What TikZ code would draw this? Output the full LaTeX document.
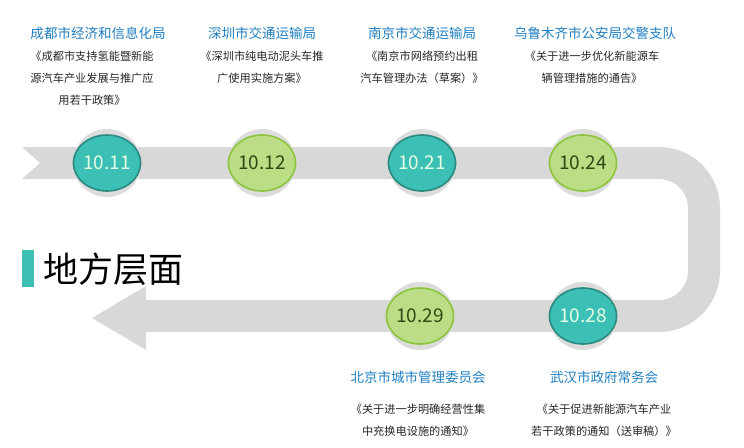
\documentclass[tikz,border=0pt]{standalone}
\usepackage{fontspec}
\setmainfont{Noto Sans CJK SC}
\begin{document}
\begin{tikzpicture}[x=1pt,y=-1pt,
  ttl/.style={text=titleblue,font=\fontsize{13.5}{15}\selectfont},
  body/.style={align=center,font=\fontsize{11.2}{22}\selectfont,text=black!85},
  ring/.style={circle,fill=ringgray,minimum size=68pt,inner sep=0pt},
  teal/.style={ellipse,fill=tealc,draw=tealb,line width=1.6pt,minimum width=58pt,minimum height=56pt,text=white!90!green,font=\fontsize{19}{20}\selectfont,inner sep=0pt},
  lime/.style={ellipse,fill=limec,draw=limeb,line width=1.6pt,minimum width=58pt,minimum height=56pt,text=darkgreen,font=\fontsize{19}{20}\selectfont,inner sep=0pt}]
\usetikzlibrary{shapes.geometric}
\definecolor{titleblue}{HTML}{1F7FC0}
\definecolor{ringgray}{HTML}{DCDCDC}
\definecolor{bandgray}{HTML}{D8D8D8}
\definecolor{tealc}{HTML}{3CBFB5}
\definecolor{tealb}{HTML}{2A8A80}
\definecolor{limec}{HTML}{BADD86}
\definecolor{limeb}{HTML}{8CC43C}
\definecolor{darkgreen}{HTML}{2E4A10}
\useasboundingbox (0,0) rectangle (744,447);
% band
\coordinate (s) at (40,163);
\coordinate (c1) at (704,163);
\coordinate (c2) at (704,316);
\coordinate (e) at (140,316);
\draw[bandgray,line width=32pt,rounded corners=45pt] (s) -- (c1) -- (c2) -- (e);
\fill[bandgray] (22,147) -- (42,147) -- (42,179) -- (22,179) -- (40,163) -- cycle;
\fill[bandgray] (146,286) -- (92,318) -- (146,350) -- cycle;
% circles
\foreach \n/\x/\y/\s/\t in {a/107/163/teal/10.11, b/262/163/lime/10.12, c/422/163/teal/10.21, d/583/163/lime/10.24, e/583/316/teal/10.28, f/420/316/lime/10.29}{
  \node[ring] (r\n) at (\x,\y) {};
  \node[\s] (n\n) at (\x,\y) {\t};
}
% texts
\node[ttl] (t1) at (98,33) {成都市经济和信息化局};
\node[body,anchor=north] (b1) at (92,47) {《成都市支持氢能暨新能\\源汽车产业发展与推广应\\用若干政策》};
\node[ttl] (t2) at (262,33) {深圳市交通运输局};
\node[body,anchor=north] (b2) at (262,47) {《深圳市纯电动泥头车推\\广使用实施方案》};
\node[ttl] (t3) at (422,33) {南京市交通运输局};
\node[body,anchor=north] (b3) at (422,47) {《南京市网络预约出租\\汽车管理办法（草案）》};
\node[ttl] (t4) at (595,33) {乌鲁木齐市公安局交警支队};
\node[body,anchor=north] (b4) at (592,47) {《关于进一步优化新能源车\\辆管理措施的通告》};
\node[ttl] (t5) at (418,377) {北京市城市管理委员会};
\node[body,anchor=north] (b5) at (418,400) {《关于进一步明确经营性集\\中充换电设施的通知》};
\node[ttl] (t6) at (604,377) {武汉市政府常务会};
\node[body,anchor=north] (b6) at (604,400) {《关于促进新能源汽车产业\\若干政策的通知（送审稿）》};
\fill[tealc] (22,250) rectangle (34,287);
\node[anchor=west,font=\fontsize{35}{38}\selectfont,inner sep=0pt] (h) at (43,269) {地方层面};
\end{tikzpicture}
\end{document}
